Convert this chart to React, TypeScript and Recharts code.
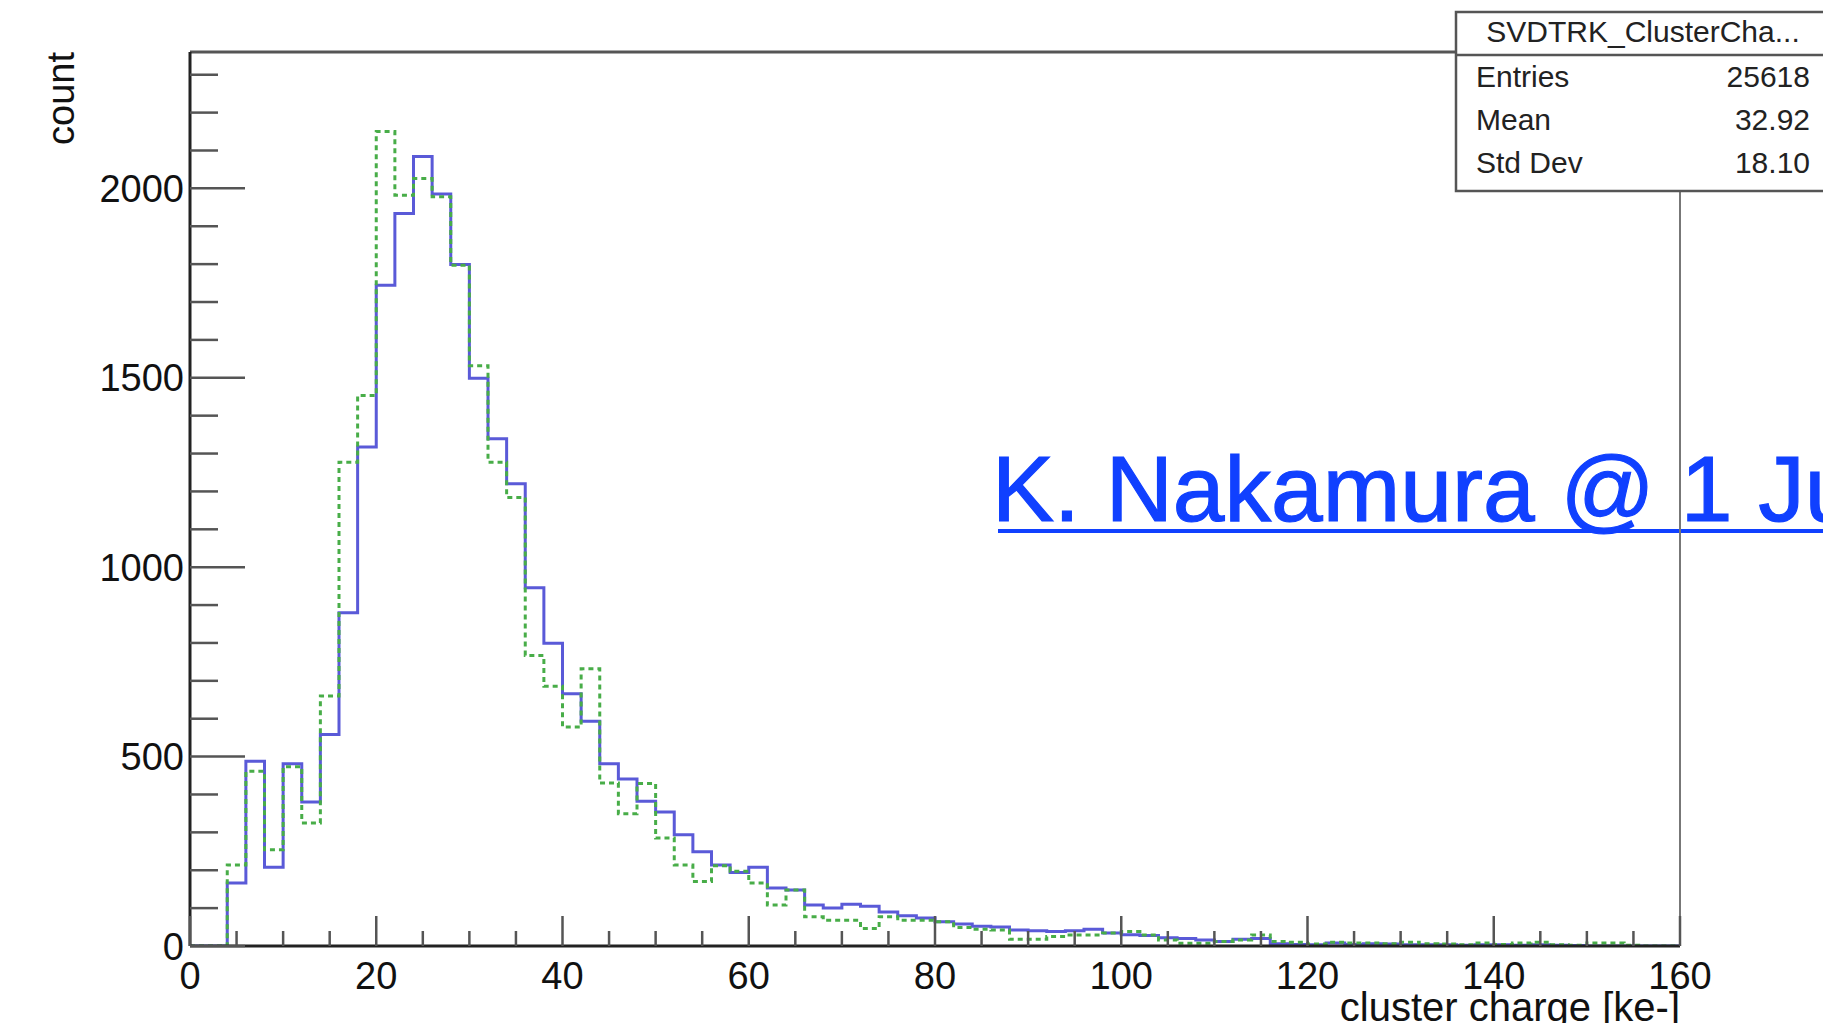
import React from 'react';
import { LineChart, Line, XAxis, YAxis, ReferenceLine } from 'recharts';

const FONT = '"Liberation Sans", Arial, Helvetica, sans-serif';

// Bin edges (charge, ke-), 80 bins of 2 ke- from 0 to 160
const BIN_EDGES = [
  0, 2, 4, 6, 8, 10, 12, 14, 16, 18, 20, 22, 24, 26, 28, 30, 32, 34, 36, 38,
  40, 42, 44, 46, 48, 50, 52, 54, 56, 58, 60, 62, 64, 66, 68, 70, 72, 74, 76, 78,
  80, 82, 84, 86, 88, 90, 92, 94, 96, 98, 100, 102, 104, 106, 108, 110, 112, 114, 116, 118,
  120, 122, 124, 126, 128, 130, 132, 134, 136, 138, 140, 142, 144, 146, 148, 150, 152, 154, 156, 158,
  160,
];

// Solid blue histogram (SVDTRK_ClusterCharge)
const BLUE_COUNTS = [
  0, 0, 166, 488, 208, 481, 380, 558, 880, 1317,
  1744, 1934, 2084, 1985, 1799, 1499, 1339, 1220, 946, 799,
  666, 593, 481, 441, 382, 354, 294, 249, 214, 194,
  208, 153, 148, 108, 100, 110, 105, 90, 80, 74,
  64, 58, 52, 50, 42, 40, 38, 40, 44, 34,
  30, 28, 22, 20, 16, 12, 18, 20, 6, 4,
  3, 8, 4, 6, 5, 3, 3, 3, 2, 3,
  3, 2, 3, 2, 1, 0, 0, 0, 0, 0,
];

// Dotted green histogram
const GREEN_COUNTS = [
  0, 0, 214, 461, 254, 473, 325, 660, 1277, 1453,
  2150, 1982, 2026, 1978, 1797, 1532, 1277, 1184, 767, 686,
  578, 732, 430, 349, 429, 285, 214, 170, 212, 197,
  166, 108, 148, 77, 68, 68, 46, 77, 68, 68,
  64, 49, 44, 42, 18, 18, 25, 29, 29, 34,
  38, 29, 16, 7, 7, 12, 16, 29, 12, 10,
  5, 10, 8, 8, 6, 10, 6, 5, 3, 8,
  4, 8, 10, 3, 2, 8, 8, 2, 0, 0,
];

const X_DOMAIN = [0, 160];
const Y_DOMAIN = [0, 2360];
const X_TICKS = [
  0, 5, 10, 15, 20, 25, 30, 35, 40, 45, 50, 55, 60, 65, 70, 75, 80,
  85, 90, 95, 100, 105, 110, 115, 120, 125, 130, 135, 140, 145, 150, 155, 160,
];
const X_LABELS = [0, 20, 40, 60, 80, 100, 120, 140, 160];
const Y_TICKS = [
  0, 100, 200, 300, 400, 500, 600, 700, 800, 900, 1000, 1100,
  1200, 1300, 1400, 1500, 1600, 1700, 1800, 1900, 2000, 2100, 2200, 2300,
];
const Y_LABELS = [0, 500, 1000, 1500, 2000];

const X_TITLE = 'cluster charge [ke-]';
const Y_TITLE = 'count';
const STATS_TITLE = 'SVDTRK_ClusterCha...';
const STATS_ROWS = [
  ['Entries', '25618'],
  ['Mean', '32.92'],
  ['Std Dev', '18.10'],
];
const NOTE = 'K. Nakamura @ 1 Ju';

const table = BIN_EDGES.map((edge, i) => ({
  x: edge,
  blue: i < BLUE_COUNTS.length ? BLUE_COUNTS[i] : 0,
  green: i < GREEN_COUNTS.length ? GREEN_COUNTS[i] : 0,
}));

const XTick = (props: any) => {
  const { x, y, payload } = props;
  const v = payload.value;
  const major = X_LABELS.includes(v);
  return (
    <g>
      <line x1={x} x2={x} y1={y} y2={y - (major ? 30 : 15)} stroke="#555" strokeWidth={2.5} />
      {major && (
        <text x={x} y={y + 43} textAnchor="middle" fontSize={38} fontFamily={FONT} fill="#111">
          {v}
        </text>
      )}
    </g>
  );
};

const YTick = (props: any) => {
  const { x, y, payload } = props;
  const v = payload.value;
  const major = Y_LABELS.includes(v);
  return (
    <g>
      <line x1={x} x2={x + (major ? 55 : 28)} y1={y} y2={y} stroke="#555" strokeWidth={2.5} />
      {major && (
        <text x={x - 6} y={y} dy={13.5} textAnchor="end" fontSize={38} fontFamily={FONT} fill="#111">
          {v}
        </text>
      )}
    </g>
  );
};

export default function App() {
  return (
    <div
      style={{
        position: 'absolute',
        left: 0,
        top: 0,
        width: 1823,
        height: 1023,
        overflow: 'hidden',
        background: '#ffffff',
      }}
    >
      <svg width={1823} height={1023} style={{ position: 'absolute', left: 0, top: 0 }}>
        <text x={992} y={521} fontSize={93} fontFamily={FONT} fill="#1040ff" stroke="#1040ff" strokeWidth={1.2}>
          {NOTE}
        </text>
        <rect x={998} y={529} width={830} height={4} fill="#1040ff" />
      </svg>
      <div style={{ position: 'absolute', left: 0, top: 0 }}>
        <LineChart
          width={1823}
          height={1023}
          data={table}
          margin={{ top: 52, right: 143, bottom: 0, left: 0 }}
        >
          <XAxis
            dataKey="x"
            type="number"
            domain={X_DOMAIN}
            ticks={X_TICKS}
            interval={0}
            allowDataOverflow
            height={77}
            tickSize={0}
            tickMargin={0}
            tickLine={false}
            tick={<XTick />}
            axisLine={{ stroke: '#222', strokeWidth: 3 }}
          />
          <YAxis
            type="number"
            domain={Y_DOMAIN}
            ticks={Y_TICKS}
            interval={0}
            allowDataOverflow
            width={190}
            tickSize={0}
            tickMargin={0}
            tickLine={false}
            tick={<YTick />}
            axisLine={{ stroke: '#222', strokeWidth: 3 }}
          />
          <ReferenceLine y={Y_DOMAIN[1]} stroke="#555" strokeWidth={3} />
          <ReferenceLine x={X_DOMAIN[1]} stroke="#777" strokeWidth={2} />
          <Line
            dataKey="blue"
            type="stepAfter"
            stroke="#5a5ad8"
            strokeWidth={3}
            dot={false}
            activeDot={false}
            isAnimationActive={false}
          />
          <Line
            dataKey="green"
            type="stepAfter"
            stroke="#48ad48"
            strokeWidth={3}
            strokeDasharray="5 4"
            dot={false}
            activeDot={false}
            isAnimationActive={false}
          />
        </LineChart>
      </div>
      <svg width={1823} height={1023} style={{ position: 'absolute', left: 0, top: 0, pointerEvents: 'none' }}>
        <text x={1680} y={1021} textAnchor="end" fontSize={40} fontFamily={FONT} fill="#111">
          {X_TITLE}
        </text>
        <text
          x={74}
          y={52}
          transform="rotate(-90 74 52)"
          textAnchor="end"
          fontSize={38}
          fontFamily={FONT}
          fill="#111"
        >
          {Y_TITLE}
        </text>
        <rect x={1456} y={12} width={420} height={179} fill="#ffffff" stroke="#555" strokeWidth={2.5} />
        <line x1={1456} x2={1823} y1={55} y2={55} stroke="#555" strokeWidth={2.5} />
        <text x={1643} y={42} textAnchor="middle" fontSize={30} fontFamily={FONT} fill="#222">
          {STATS_TITLE}
        </text>
        {STATS_ROWS.map((row, i) => (
          <g key={row[0]}>
            <text x={1476} y={87 + i * 43} fontSize={30} fontFamily={FONT} fill="#222">
              {row[0]}
            </text>
            <text x={1810} y={87 + i * 43} textAnchor="end" fontSize={30} fontFamily={FONT} fill="#222">
              {row[1]}
            </text>
          </g>
        ))}
      </svg>
    </div>
  );
}
